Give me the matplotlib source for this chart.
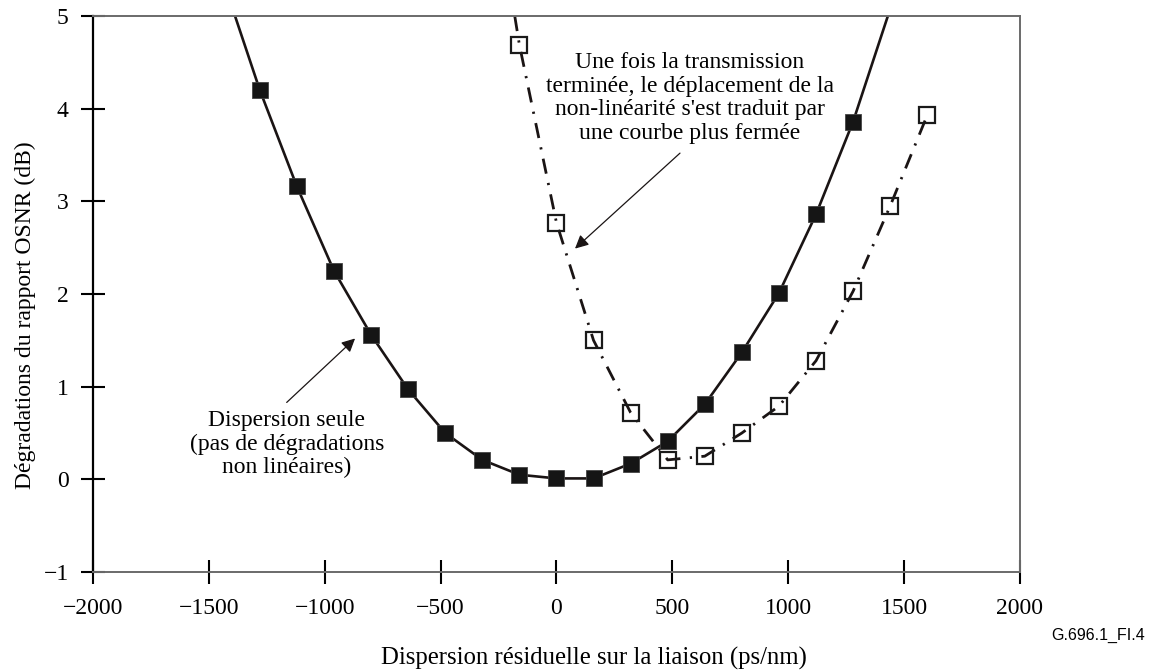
import numpy as np
import matplotlib.pyplot as plt

# ===== データ =====
# 分散のみ（黒四角）
disp_x = [-1280, -1120, -960, -800, -640, -480, -320, -160, 0,
          160, 320, 480, 640, 800, 960, 1120, 1280]
disp_y = [4.20, 3.16, 2.25, 1.56, 0.97, 0.50, 0.21, 0.05, 0.01,
          0.01, 0.17, 0.41, 0.81, 1.37, 2.01, 2.86, 3.86]
# 実線の上端（枠の上辺と交わる位置）
disp_ends_x = [-1387, 1430]

# 非線形あり（白四角）
nl_x = [-160, 0, 160, 320, 480, 640, 800, 960, 1120, 1280, 1440, 1600]
nl_y = [4.69, 2.77, 1.50, 0.72, 0.21, 0.25, 0.50, 0.79, 1.28, 2.03, 2.95, 3.93]
nl_start_x = -180

x_ticks = [-2000, -1500, -1000, -500, 0, 500, 1000, 1500, 2000]
y_ticks = [-1, 0, 1, 2, 3, 4, 5]

plt.rcParams["font.family"] = ["Liberation Serif", "DejaVu Serif"]
FS = 17
INK = "#1a1414"

fig = plt.figure(figsize=(11.49, 6.71), dpi=100)
ax = fig.add_axes([0.0809, 0.1475, 0.8068, 0.8287])

ymax = 5
# 実線（端は上辺まで延長）
line_x = [disp_ends_x[0]] + disp_x + [disp_ends_x[1]]
line_y = [ymax] + disp_y + [ymax]
ax.plot(line_x, line_y, color=INK, lw=1.9, zorder=2)
ax.plot(disp_x, disp_y, "s", color="#151515", ms=11.5, mec="#444444",
        mew=0.6, zorder=3)

# 一点鎖線
dl_x = [nl_start_x] + nl_x
dl_y = [ymax] + nl_y
ax.plot(dl_x, dl_y, color=INK, lw=2.0, ls=(0, (5.5, 3.4, 0.8, 3.4)), zorder=2)
ax.plot(nl_x, nl_y, "s", ms=11, mfc="none", mec="#1a1a1a", mew=1.6, zorder=3)

# 軸
ax.set_xlim(-2000, 2000)
ax.set_ylim(-1, 5)
ax.set_xticks(x_ticks)
ax.set_yticks(y_ticks)
ax.tick_params(direction="inout", length=17, width=1.5, labelsize=FS,
               color="black")
ax.tick_params(axis="x", pad=10)
ax.tick_params(axis="y", pad=9)
ax.spines["left"].set_color("black")
ax.spines["left"].set_linewidth(1.6)
for side in ["top", "right", "bottom"]:
    ax.spines[side].set_color("#6a6a6a")
    ax.spines[side].set_linewidth(1.4)

fig.text(0.517, 0.0089, "Dispersion résiduelle sur la liaison (ps/nm)",
         fontsize=17.8, ha="center", va="baseline")
ax.set_ylabel("Dégradations du rapport OSNR (dB)", fontsize=FS)
ax.yaxis.set_label_coords(-0.0615, 0.461)

# 注記
ax.text(-1164, 0.38, "Dispersion seule\n(pas de dégradations\nnon linéaires)",
        ha="center", va="center", fontsize=FS, linespacing=1.13)
ax.annotate("", xy=(-869, 1.52), xytext=(-1164, 0.83),
            arrowprops=dict(arrowstyle="-|>", color=INK, lw=0.9,
                            mutation_scale=20, shrinkA=0, shrinkB=0))
ax.text(576, 4.115, "Une fois la transmission\nterminée, le déplacement de la\n"
        "non-linéarité s'est traduit par\nune courbe plus fermée",
        ha="center", va="center", fontsize=FS, linespacing=1.15)
ax.annotate("", xy=(80, 2.49), xytext=(533, 3.52),
            arrowprops=dict(arrowstyle="-|>", color=INK, lw=0.9,
                            mutation_scale=20, shrinkA=0, shrinkB=0))

fig.text(0.9556, 0.0537, "G.696.1_FI.4", fontsize=11.5,
         family="Liberation Sans", ha="center", va="center")

fig.savefig("out.png", dpi=100)
